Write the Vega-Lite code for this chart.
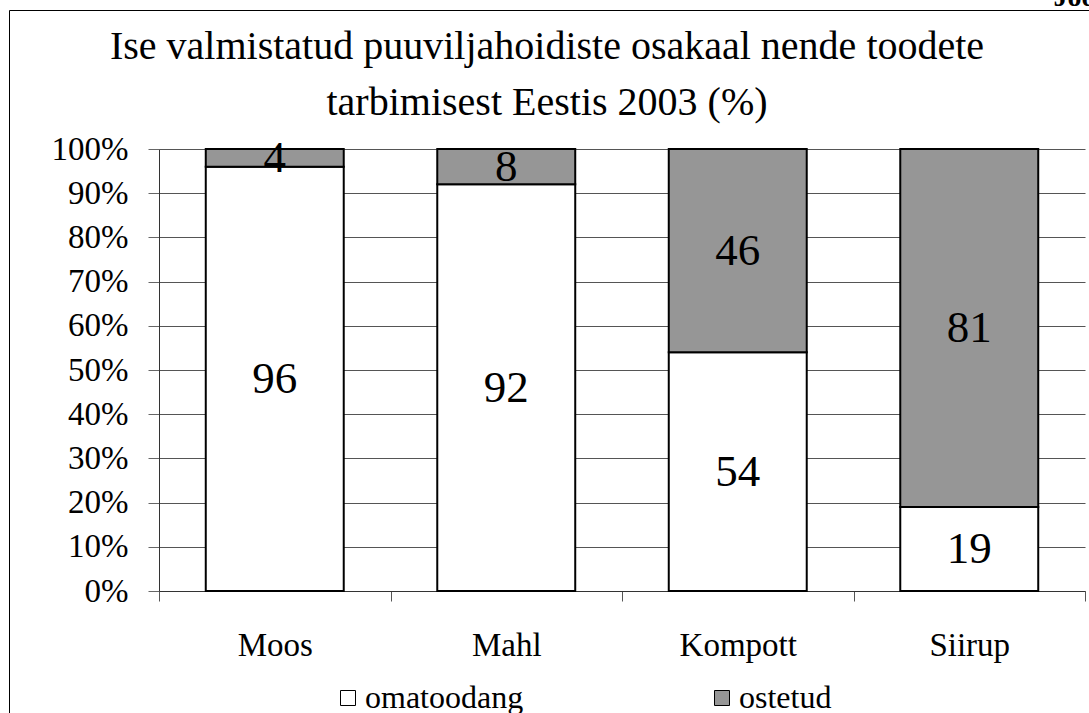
{
  "$schema": "https://vega.github.io/schema/vega-lite/v6.json",
  "width": 1090,
  "height": 710,
  "autosize": {"type": "none"},
  "padding": {"left": 9, "top": 10, "right": -10, "bottom": -7},
  "background": "#ffffff",
  "config": {
    "view": {"stroke": "#000000", "strokeWidth": 1},
    "font": "Liberation Serif",
    "title": {"font": "Liberation Serif"},
    "axis": {"labelFont": "Liberation Serif", "titleFont": "Liberation Serif"},
    "legend": {"labelFont": "Liberation Serif"},
    "text": {"font": "Liberation Serif"}
  },
  "title": {
    "text": ["Ise valmistatud puuviljahoidiste osakaal nende toodete", "tarbimisest Eestis 2003 (%)"],
    "font": "Liberation Serif",
    "fontSize": 40,
    "fontWeight": "normal",
    "color": "#000000",
    "lineHeight": 56,
    "anchor": "middle",
    "frame": "group",
    "dx": -7,
    "offset": -140
  },
  "data": {
    "values": [
      {"cat": "Moos", "type": "omatoodang", "value": 96},
      {"cat": "Moos", "type": "ostetud", "value": 4},
      {"cat": "Mahl", "type": "omatoodang", "value": 92},
      {"cat": "Mahl", "type": "ostetud", "value": 8},
      {"cat": "Kompott", "type": "omatoodang", "value": 54},
      {"cat": "Kompott", "type": "ostetud", "value": 46},
      {"cat": "Siirup", "type": "omatoodang", "value": 19},
      {"cat": "Siirup", "type": "ostetud", "value": 81}
    ]
  },
  "transform": [
    {"stack": "value", "groupby": ["cat"], "sort": [{"field": "type", "order": "ascending"}], "offset": "normalize", "as": ["v0", "v1"]},
    {"calculate": "(datum.v0 + datum.v1) / 2", "as": "mid"}
  ],
  "encoding": {
    "x": {
      "field": "cat",
      "type": "nominal",
      "sort": ["Moos", "Mahl", "Kompott", "Siirup"],
      "scale": {"range": [150, 1076], "paddingInner": 0, "paddingOuter": 0},
      "axis": {
        "title": "Joonis",
        "titleX": 1044,
        "titleY": -586,
        "titleAlign": "left",
        "titleBaseline": "alphabetic",
        "titleFont": "Liberation Serif",
        "titleFontSize": 28,
        "titleFontWeight": "bold",
        "titleColor": "#000000",
        "orient": "bottom",
        "offset": -129,
        "labelAngle": 0,
        "labelFont": "Liberation Serif",
        "labelFontSize": 33,
        "labelColor": "#000000",
        "labelPadding": 28,
        "tickBand": "extent",
        "tickSize": 10,
        "tickColor": "#555555",
        "domainColor": "#333333",
        "domainWidth": 1,
        "grid": false
      }
    }
  },
  "layer": [
    {
      "mark": {"type": "bar", "width": {"band": 0.596}, "stroke": "#000000", "strokeWidth": 2},
      "encoding": {
        "y": {
          "field": "v0",
          "type": "quantitative",
          "scale": {"domain": [0, 1], "range": [581, 139], "nice": false},
          "axis": {
            "title": null,
            "orient": "left",
            "offset": -150,
            "values": [0, 0.1, 0.2, 0.3, 0.4, 0.5, 0.6, 0.7, 0.8, 0.9, 1],
            "format": ".0%",
            "labelFont": "Liberation Serif",
            "labelFontSize": 33,
            "labelColor": "#000000",
            "labelPadding": 20,
            "tickSize": 11,
            "tickColor": "#666666",
            "domainColor": "#333333",
            "grid": true,
            "gridColor": "#555555",
            "gridWidth": 1
          }
        },
        "y2": {"field": "v1"},
        "color": {
          "field": "type",
          "type": "nominal",
          "scale": {"domain": ["omatoodang", "ostetud"], "range": ["#ffffff", "#969696"]},
          "legend": {
            "title": null,
            "orient": "none",
            "legendX": 323,
            "legendY": 672,
            "padding": 0,
            "symbolOffset": 0,
            "direction": "horizontal",
            "columnPadding": 182,
            "labelFont": "Liberation Serif",
            "labelFontSize": 32,
            "labelColor": "#000000",
            "labelOffset": 1,
            "symbolType": "square",
            "symbolSize": 225,
            "symbolStrokeColor": "#000000",
            "symbolStrokeWidth": 1
          }
        }
      }
    },
    {
      "mark": {"type": "text", "font": "Liberation Serif", "fontSize": 45, "color": "#000000", "baseline": "middle", "align": "center"},
      "encoding": {
        "y": {"field": "mid", "type": "quantitative"},
        "text": {"field": "value", "type": "quantitative"}
      }
    }
  ]
}
